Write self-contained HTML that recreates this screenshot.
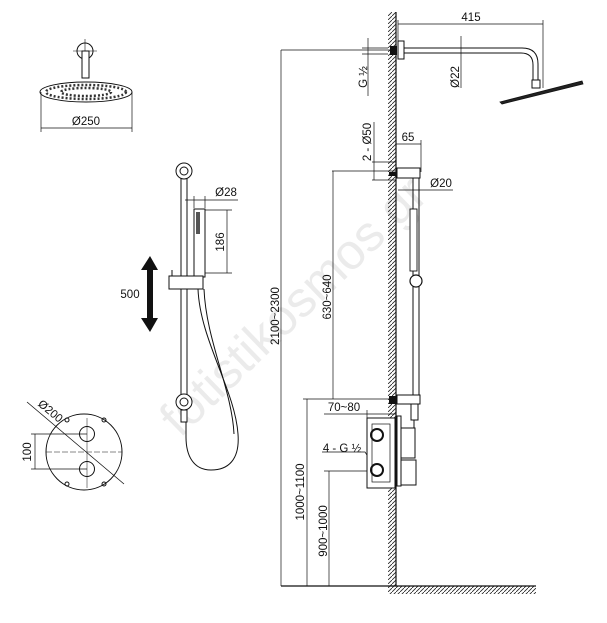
<!DOCTYPE html>
<html><head><meta charset="utf-8"><style>html,body{margin:0;padding:0;background:#fff}svg{display:block}</style></head>
<body>
<svg width="607" height="623" viewBox="0 0 607 623" xmlns="http://www.w3.org/2000/svg" font-family="Liberation Sans, sans-serif" font-size="11" fill="none" stroke="#111">
<defs>
<pattern id="h" width="4" height="4" patternUnits="userSpaceOnUse"><path d="M0 4L4 0" stroke="#222" stroke-width="0.8"/></pattern>
</defs>
<!-- watermark -->
<text x="305" y="318" transform="rotate(-44 305 318)" text-anchor="middle" font-size="50" fill="#ebebeb" stroke="none">fotistikosmos.gr</text>

<!-- wall & floor -->
<rect x="388" y="12" width="8" height="574" fill="url(#h)" stroke="none"/>
<line x1="396" y1="12" x2="396" y2="586" stroke-width="1.2"/>
<rect x="388" y="586" width="148" height="8" fill="url(#h)" stroke="none"/>
<line x1="281" y1="586" x2="536" y2="586" stroke-width="1.2"/>

<g stroke-width="0.7">
<line x1="281" y1="50" x2="390" y2="50"/><line x1="281" y1="50" x2="281" y2="586"/>
<line x1="398" y1="24" x2="543" y2="24"/><line x1="398" y1="20" x2="398" y2="44"/><line x1="543" y1="20" x2="543" y2="88"/>
<line x1="368" y1="38" x2="368" y2="96"/><line x1="362" y1="48" x2="388" y2="48"/><line x1="362" y1="54" x2="388" y2="54"/>
<line x1="461" y1="36" x2="461" y2="88"/>
<line x1="374" y1="122" x2="374" y2="180"/><line x1="372" y1="162" x2="396" y2="162"/><line x1="372" y1="180" x2="396" y2="180"/>
<line x1="396" y1="144" x2="421" y2="144"/><line x1="421" y1="140" x2="421" y2="172"/>
<line x1="398" y1="190" x2="453" y2="190"/>
<line x1="332" y1="171" x2="396" y2="171"/><line x1="333" y1="171" x2="333" y2="399"/>
<line x1="303" y1="399" x2="396" y2="399"/><line x1="307" y1="399" x2="307" y2="586"/>
<line x1="324" y1="414" x2="396" y2="414"/><line x1="367" y1="410" x2="367" y2="420"/>
<line x1="324" y1="471" x2="370" y2="471"/><line x1="329" y1="471" x2="329" y2="586"/>
<polyline points="322,452 365,452 374,466"/>
</g>

<!-- head arm side -->
<rect x="390" y="46" width="7" height="9" fill="#111" stroke="none"/>
<rect x="398" y="41" width="6" height="18" fill="#fff" stroke-width="1"/>
<path d="M404 48 H522 Q538 48 538 64 V80 M404 53 H521 Q533 53 533 65 V80" stroke-width="1"/>
<rect x="532" y="80" width="8" height="8" fill="#fff" stroke-width="1"/>
<polygon points="500,102 582,81 583,84 502,104" fill="#222" stroke-width="0.8"/>

<!-- bar side -->
<rect x="389" y="172" width="7" height="4" fill="#111" stroke="none"/>
<rect x="397" y="168" width="23" height="10" fill="#fff" stroke-width="1"/>
<line x1="413" y1="178" x2="413" y2="398" stroke-width="1"/><line x1="419" y1="178" x2="419" y2="398" stroke-width="1"/>
<rect x="410" y="209" width="7" height="62" fill="#fff" stroke-width="0.9"/>
<circle cx="416" cy="281" r="6" fill="#fff" stroke-width="1.2"/>
<rect x="389" y="396" width="8" height="8" fill="#111" stroke="none"/>
<rect x="397" y="395" width="23" height="9" fill="#fff" stroke-width="1"/>
<rect x="411" y="404" width="7" height="16" fill="#fff" stroke-width="1"/>
<line x1="414" y1="420" x2="414" y2="440" stroke-width="1"/>
<!-- valve side -->
<rect x="367" y="418" width="28" height="70" fill="#fff" stroke-width="1"/>
<rect x="372" y="424" width="18" height="58" stroke-width="0.7"/>
<circle cx="377" cy="435" r="6" stroke-width="2"/><circle cx="377" cy="470" r="6" stroke-width="2"/>
<rect x="397" y="416" width="4" height="70" fill="#fff" stroke-width="1"/>
<rect x="401" y="428" width="14" height="30" fill="#fff" stroke-width="1"/>
<rect x="401" y="460" width="15" height="25" fill="#fff" stroke-width="1"/>

<!-- top view head -->
<g stroke-width="1">
<circle cx="85" cy="51" r="8"/>
<line x1="73" y1="51" x2="97" y2="51" stroke-width="0.6"/><line x1="85" y1="39" x2="85" y2="63" stroke-width="0.6"/>
<rect x="82" y="51" width="7" height="27" fill="#fff"/>
<ellipse cx="86" cy="92" rx="46" ry="10" fill="#fff"/>
<ellipse cx="86" cy="92" rx="40" ry="7" stroke="#333" stroke-width="2.5" stroke-dasharray="2 2"/>
<ellipse cx="86" cy="92" rx="25" ry="4" stroke="#333" stroke-width="2.5" stroke-dasharray="2 2"/>
</g>
<g stroke-width="0.7"><line x1="41" y1="92" x2="41" y2="132"/><line x1="132" y1="92" x2="132" y2="132"/><line x1="41" y1="128" x2="132" y2="128"/></g>

<!-- slide bar front -->
<g stroke-width="1">
<line x1="181" y1="171" x2="181" y2="402"/><line x1="187" y1="171" x2="187" y2="402"/>
<circle cx="184" cy="171" r="8" fill="#fff"/><circle cx="184" cy="171" r="4"/>
<circle cx="184" cy="402" r="8" fill="#fff"/><circle cx="184" cy="402" r="4"/>
<rect x="181" y="410" width="6" height="12" fill="#fff"/>
<rect x="194" y="209" width="11" height="68" fill="#fff"/>
<rect x="196" y="212" width="4" height="22" fill="#555" stroke="none"/>
<rect x="169" y="276" width="34" height="13" fill="#fff"/>
<line x1="172" y1="270" x2="172" y2="276"/>
<path d="M198 289 C200 340 235 390 238 434 C240 460 228 470 211 470 C193 470 186 455 186 437 V422"/>
<path d="M204 289 C206 340 232 390 234 434"/>
</g>
<g stroke-width="0.7">
<line x1="185" y1="200" x2="238" y2="200"/><line x1="194" y1="196" x2="194" y2="208"/><line x1="205" y1="196" x2="205" y2="208"/>
<line x1="205" y1="210" x2="232" y2="210"/><line x1="205" y1="273" x2="232" y2="273"/><line x1="227" y1="210" x2="227" y2="273"/>
</g>
<polygon points="150,256 158,270 153,270 153,318 158,318 150,332 141,318 147,318 147,270 141,270" fill="#111" stroke="none"/>

<!-- valve front -->
<g stroke-width="1">
<circle cx="84" cy="452" r="38"/>
<circle cx="87" cy="434" r="7.5" fill="#fff"/><circle cx="87" cy="469" r="7.5" fill="#fff"/>
<line x1="46" y1="452" x2="122" y2="452" stroke-width="0.5" stroke-dasharray="6 2"/>
<line x1="87" y1="418" x2="87" y2="488" stroke-width="0.5"/>
<line x1="27" y1="402" x2="124" y2="484" stroke-width="0.8"/>
<circle cx="67" cy="420" r="2"/><circle cx="104" cy="420" r="2"/><circle cx="67" cy="484" r="2"/><circle cx="104" cy="484" r="2"/>
</g>
<g stroke-width="0.7"><line x1="31" y1="434" x2="87" y2="434"/><line x1="31" y1="469" x2="87" y2="469"/><line x1="35" y1="434" x2="35" y2="469"/></g>

<g fill="#111" stroke="none" font-size="11.5">
<text x="86" y="125" text-anchor="middle">Ø250</text>
<text x="226" y="196" text-anchor="middle">Ø28</text>
<text x="130" y="298" text-anchor="middle">500</text>
<text x="471" y="21" text-anchor="middle">415</text>
<text x="408" y="141" text-anchor="middle">65</text>
<text x="441" y="187" text-anchor="middle">Ø20</text>
<text x="344" y="411" text-anchor="middle">70~80</text>
<text x="342" y="452" text-anchor="middle">4 - G ½</text>
<text transform="translate(224 242) rotate(-90)" text-anchor="middle">186</text>
<text transform="translate(31 452) rotate(-90)" text-anchor="middle">100</text>
<text transform="translate(48 414) rotate(40)" text-anchor="middle">Ø200</text>
<text transform="translate(367 77) rotate(-90)" text-anchor="middle">G ½</text>
<text transform="translate(459 77) rotate(-90)" text-anchor="middle">Ø22</text>
<text transform="translate(371 142) rotate(-90)" text-anchor="middle">2 - Ø50</text>
<text transform="translate(331 297) rotate(-90)" text-anchor="middle">630~640</text>
<text transform="translate(279 316) rotate(-90)" text-anchor="middle">2100~2300</text>
<text transform="translate(304 492) rotate(-90)" text-anchor="middle">1000~1100</text>
<text transform="translate(327 531) rotate(-90)" text-anchor="middle">900~1000</text>
</g>
</svg>
</body></html>
